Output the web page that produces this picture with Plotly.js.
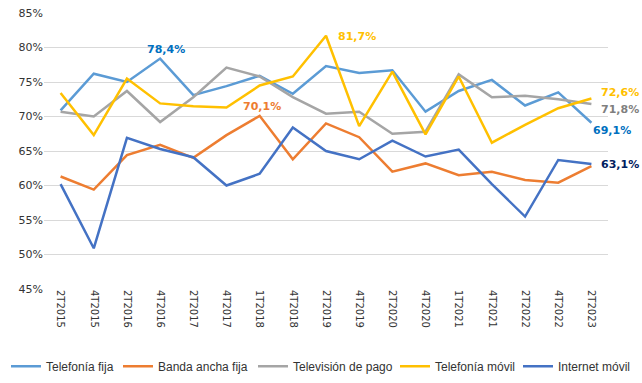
<!DOCTYPE html>
<html>
<head>
<meta charset="utf-8">
<script src="https://cdn.plot.ly/plotly-3.0.1.min.js"></script>
<style>html,body{margin:0;padding:0;background:#fff;}#chart{width:642px;height:383px;}</style>
</head>
<body>
<div id="chart"></div>
<script>
const categories = ["2T2015","4T2015","2T2016","4T2016","2T2017","4T2017","1T2018","4T2018","2T2019","4T2019","2T2020","4T2020","1T2021","4T2021","2T2022","4T2022","2T2023"];
const telefoniaFija = [70.9,76.2,75.0,78.4,73.1,74.4,75.9,73.3,77.3,76.3,76.7,70.7,73.7,75.3,71.6,73.5,69.1];
const bandaAnchaFija = [61.3,59.4,64.4,65.9,64.0,67.3,70.1,63.8,69.0,67.0,62.0,63.2,61.5,62.0,60.8,60.4,62.8];
const television = [70.7,70.0,73.7,69.2,72.8,77.1,75.8,72.8,70.4,70.7,67.5,67.8,76.1,72.8,73.0,72.5,71.8];
const telefoniaMovil = [73.4,67.3,75.5,71.9,71.5,71.3,74.5,75.8,81.7,68.6,76.5,67.4,75.8,66.2,68.8,71.2,72.6];
const internetMovil = [60.2,50.9,66.9,65.3,64.1,60.0,61.7,68.4,65.0,63.8,66.5,64.2,65.2,60.2,55.5,63.7,63.1];
const seriesNames = ["Telefonía fija","Banda ancha fija","Televisión de pago","Telefonía móvil","Internet móvil"];
const seriesColors = ["#5B9BD5","#ED7D31","#A5A5A5","#FFC000","#4472C4"];
const seriesData = [telefoniaFija, bandaAnchaFija, television, telefoniaMovil, internetMovil];
const legendIds = ["legend","legend2","legend3","legend4","legend5"];
const legendX = [6, 118, 253, 395, 518];

const traces = seriesData.map((d,i)=>({
  x: categories, y: d, type: "scatter", mode: "lines", name: seriesNames[i],
  legend: legendIds[i],
  line: {color: seriesColors[i], width: 2.5}
}));

function fmt(v){ return v.toFixed(1).replace(".", ",") + "%"; }
const last = categories.length - 1;
const ann = [];
function lab(series, idx, color, opts){
  ann.push(Object.assign({
    x: categories[idx], y: series[idx], xref: "x", yref: "y",
    text: "<b>" + fmt(series[idx]) + "</b>", showarrow: false,
    font: {family: "DejaVu Sans, Verdana, sans-serif", size: 11, color: color}
  }, opts));
}
lab(telefoniaFija, 3, "#0070C0", {yanchor: "bottom", yshift: 1, xshift: 6});
lab(bandaAnchaFija, 6, "#ED7D31", {yanchor: "bottom", yshift: 1, xshift: 2});
lab(telefoniaMovil, 8, "#FFC000", {xanchor: "left", xshift: 10, yshift: -1});
lab(telefoniaMovil, last, "#FFC000", {xanchor: "left", xshift: 8, yshift: 6});
lab(television, last, "#7F7F7F", {xanchor: "left", xshift: 8, yshift: -5});
lab(telefoniaFija, last, "#0070C0", {xanchor: "left", xshift: 0, yshift: -8});
lab(internetMovil, last, "#002060", {xanchor: "left", xshift: 8, yshift: 0});

const layout = {
  width: 642, height: 383,
  margin: {l: 44, r: 34, t: 13, b: 94, autoexpand: false},
  paper_bgcolor: "#fff", plot_bgcolor: "#fff",
  font: {family: "DejaVu Sans, Verdana, sans-serif", size: 11, color: "#333333"},
  showlegend: true,
  xaxis: {type: "category", range: [-0.5, 16.5], tickangle: 90, showgrid: false, zeroline: false, showline: false,
    ticks: "", tickfont: {size: 10, color: "#333333"}, automargin: false},
  yaxis: {range: [45, 85], dtick: 5, ticksuffix: "%", showgrid: true, gridcolor: "#D9D9D9",
    gridwidth: 1, zeroline: false, showline: false, ticks: "", automargin: false,
    tickfont: {size: 11, color: "#333333"}},
  annotations: ann
};
legendIds.forEach((id, i) => {
  layout[id] = {orientation: "h", xref: "container", yref: "container",
    x: legendX[i] / 642, xanchor: "left", y: 0.044, yanchor: "middle",
    bgcolor: "rgba(0,0,0,0)", borderwidth: 0,
    font: {family: "Liberation Sans, Arial, sans-serif", size: 12, color: "#333333"},
    itemwidth: 30};
});
Plotly.newPlot("chart", traces, layout, {displayModeBar: false, staticPlot: true});
</script>
</body>
</html>
